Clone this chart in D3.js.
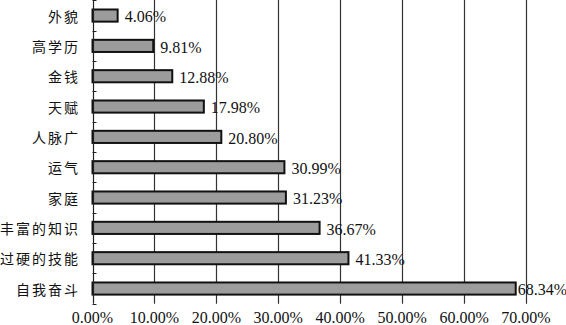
<!DOCTYPE html>
<html>
<head>
<meta charset="utf-8">
<script src="https://cdn.jsdelivr.net/npm/d3@7/dist/d3.min.js"></script>
<style>
  html, body { margin: 0; padding: 0; background: #fff; }
  svg { display: block; }
</style>
</head>
<body>
<svg id="chart" width="566" height="325"></svg>
<script>
const categories = ["外貌", "高学历", "金钱", "天赋", "人脉广", "运气", "家庭", "丰富的知识", "过硬的技能", "自我奋斗"];
const values = [4.06, 9.81, 12.88, 17.98, 20.80, 30.99, 31.23, 36.67, 41.33, 68.34];
const xTicks = [0, 10, 20, 30, 40, 50, 60, 70];

const W = 566, H = 325;
const plotLeft = 92.5, plotRight = 526, plotTop = 0.4, plotBottom = 303.7;

const svg = d3.select("#chart");

const x = d3.scaleLinear().domain([0, 70]).range([plotLeft, plotRight]);
const y = d3.scaleBand().domain(categories).range([plotTop, plotBottom])
  .paddingInner(0.6).paddingOuter(0.3);

// gridlines
svg.append("g").selectAll("line").data(xTicks.slice(1)).join("line")
  .attr("x1", d => Math.round(x(d)) + 0.5).attr("x2", d => Math.round(x(d)) + 0.5)
  .attr("y1", 0).attr("y2", plotBottom)
  .attr("stroke", "#333").attr("stroke-width", 1.2);

// x tick labels
svg.append("g").selectAll("text").data(xTicks).join("text")
  .attr("x", d => x(d)).attr("y", 323)
  .attr("text-anchor", "middle")
  .attr("font-family", "'Liberation Serif', 'Times New Roman', serif")
  .attr("font-size", 16).attr("fill", "#111")
  .text(d => d3.format(".2f")(d) + "%");

// bars
svg.append("g").selectAll("rect").data(values).join("rect")
  .attr("x", x(0))
  .attr("y", (d, i) => y(categories[i]))
  .attr("width", d => x(d) - x(0))
  .attr("height", y.bandwidth())
  .attr("fill", "#9c9c9c").attr("stroke", "#111").attr("stroke-width", 2);

// y axis line
svg.append("line")
  .attr("x1", Math.round(plotLeft) + 0.5).attr("x2", Math.round(plotLeft) + 0.5)
  .attr("y1", 0).attr("y2", plotBottom)
  .attr("stroke", "#222").attr("stroke-width", 1.2);

// boundary ticks (inward)
const bounds = d3.range(0, categories.length + 1).map(i => plotTop + i * y.step());
svg.append("g").selectAll("line").data(bounds).join("line")
  .attr("x1", plotLeft).attr("x2", plotLeft + 4)
  .attr("y1", d => Math.round(d) + 0.5).attr("y2", d => Math.round(d) + 0.5)
  .attr("stroke", "#222").attr("stroke-width", 1);

// category labels
svg.append("g").selectAll("text").data(categories).join("text")
  .attr("x", 80).attr("y", d => y(d) + y.bandwidth() / 2 + 1)
  .attr("dy", "0.36em")
  .attr("text-anchor", "end")
  .attr("font-family", "'Noto Sans CJK SC', sans-serif")
  .attr("font-size", 14).attr("letter-spacing", 2)
  .attr("fill", "#111")
  .text(d => d);

// value labels
svg.append("g").selectAll("text").data(values).join("text")
  .attr("y", (d, i) => y(categories[i]) + y.bandwidth() / 2 + 1)
  .attr("dy", "0.36em")
  .attr("font-family", "'Liberation Serif', 'Times New Roman', serif")
  .attr("font-size", 16).attr("fill", "#111")
  .text(d => d3.format(".2f")(d) + "%")
  .each(function(d) {
    const w = this.getComputedTextLength();
    this.setAttribute("x", Math.max(x(d) + 2, Math.min(x(d) + 7, W - 1 - w)));
  });
</script>
</body>
</html>
